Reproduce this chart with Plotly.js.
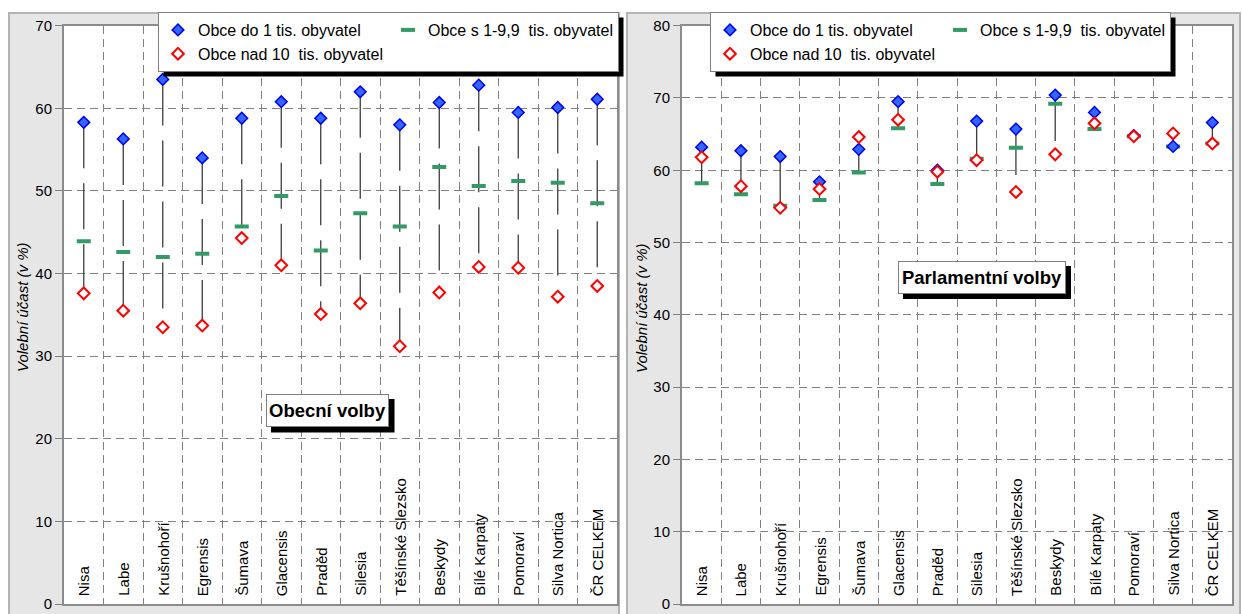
<!DOCTYPE html>
<html>
<head>
<meta charset="utf-8">
<script src="https://cdn.plot.ly/plotly-3.0.1.min.js"></script>
<style>
html,body{margin:0;padding:0;background:#fff;}
#chart{width:1242px;height:614px;}
</style>
</head>
<body>
<div id="chart"></div>
<script>
// ---- data ----
var categories = ['Nisa','Labe','Krušnohoří','Egrensis','Šumava','Glacensis','Praděd','Silesia','Těšínské Slezsko','Beskydy','Bílé Karpaty','Pomoraví','Silva Nortica','ČR CELKEM'];

var seriesNames = ['Obce do 1 tis. obyvatel', 'Obce s 1-9,9 \u00a0tis. obyvatel', 'Obce nad 10 \u00a0tis. obyvatel'];

// Obecní volby
var obecniDo1   = [58.3, 56.3, 63.5, 54.0, 58.8, 60.8, 58.8, 62.0, 58.0, 60.7, 62.8, 59.5, 60.1, 61.1];
var obecni1_10  = [43.9, 42.6, 42.0, 42.4, 45.7, 49.4, 42.8, 47.3, 45.7, 52.9, 50.6, 51.2, 51.0, 48.5];
var obecniNad10 = [37.6, 35.5, 33.5, 33.7, 44.3, 41.0, 35.1, 36.4, 31.2, 37.7, 40.8, 40.7, 37.2, 38.5];

// Parlamentní volby
var parlDo1     = [63.2, 62.7, 61.9, 58.4, 62.9, 69.5, 60.0, 66.8, 65.7, 70.4, 68.0, 64.8, 63.3, 66.6];
var parl1_10    = [58.2, 56.7, 55.1, 55.9, 59.7, 65.8, 58.1, 61.6, 63.1, 69.2, 65.7, 64.7, 63.3, 63.7];
var parlNad10   = [61.8, 57.8, 54.8, 57.4, 64.6, 67.0, 59.8, 61.4, 57.0, 62.2, 66.5, 64.7, 65.1, 63.7];

var panelTitles = ['Obecní volby', 'Parlamentní volby'];
var yTitle = 'Volební účast (v %)';

// ---- layout helpers ----
var W = 1242, H = 614;
var FONT = 'Liberation Sans, Arial, sans-serif';
function px(x){ return x / W; }
function py(y){ return 1 - y / H; }

var xIdx = categories.map(function(c, i){ return i; });
var boundaries = categories.slice(1).map(function(c, i){ return i + 0.5; });

function hiLo(a, b, c, xa, ya){
  var xs = [], ys = [];
  for (var i = 0; i < a.length; i++){
    xs.push(i, i, null);
    ys.push(Math.max(a[i], b[i], c[i]), Math.min(a[i], b[i], c[i]), null);
  }
  return {x: xs, y: ys, xaxis: xa, yaxis: ya, type: 'scatter', mode: 'lines',
          line: {color: '#3c3c3c', width: 1.3, dash: '46px,15px'},
          showlegend: false, hoverinfo: 'skip'};
}

function panelTraces(do1, s1_10, nad10, xa, ya, legendId, gp){
  return [
    hiLo(do1, s1_10, nad10, xa, ya),
    {x: xIdx, y: s1_10, xaxis: xa, yaxis: ya, type: 'scatter', mode: 'markers',
     name: seriesNames[1], legend: legendId, legendgroup: gp + 'b', legendrank: 3,
     marker: {symbol: 'line-ew', size: 10, color: '#339966', line: {color: '#339966', width: 4}}},
    {x: xIdx, y: do1, xaxis: xa, yaxis: ya, type: 'scatter', mode: 'markers',
     name: seriesNames[0], legend: legendId, legendgroup: gp + 'a', legendrank: 1,
     marker: {symbol: 'diamond', size: 9, color: '#3366ff', line: {color: '#0000ee', width: 1.5}}},
    {x: xIdx, y: nad10, xaxis: xa, yaxis: ya, type: 'scatter', mode: 'markers',
     name: seriesNames[2], legend: legendId, legendgroup: gp + 'a', legendrank: 2,
     marker: {symbol: 'diamond', size: 9, color: '#ffffff', line: {color: '#ff0000', width: 2}}}
  ];
}

var data = [].concat(
  panelTraces(obecniDo1, obecni1_10, obecniNad10, 'x', 'y', 'legend', 'L'),
  panelTraces(parlDo1, parl1_10, parlNad10, 'x2', 'y2', 'legend2', 'R')
);

var leftDom = [px(64), px(617)];
var rightDom = [px(682), px(1232)];
var yDom = [py(604), py(25.7)];

function xAxis(dom, anchor){
  return {domain: dom, anchor: anchor, range: [-0.5, categories.length - 0.5],
    tickvals: boundaries, showticklabels: false, ticks: '',
    showgrid: true, gridcolor: '#808080', griddash: '8px,5px', gridwidth: 1,
    showline: true, mirror: true, linecolor: '#8c8c8c', linewidth: 2,
    zeroline: false, fixedrange: true};
}
function yAxis(dom, anchor, max){
  return {domain: dom, anchor: anchor, range: [0, max], dtick: 10, tick0: 0,
    ticks: 'outside', ticklen: 7, tickcolor: '#808080', tickwidth: 1,
    tickfont: {family: FONT, size: 15, color: '#000'},
    showgrid: true, gridcolor: '#808080', griddash: '8px,5px', gridwidth: 1,
    showline: true, mirror: true, linecolor: '#8c8c8c', linewidth: 2,
    zeroline: false, fixedrange: true};
}

var shapes = [
  {type: 'rect', xref: 'paper', yref: 'paper', layer: 'below', x0: px(9), x1: px(619), y0: -0.02, y1: py(13),
   fillcolor: '#e6e6e6', line: {color: '#b4b4b4', width: 2}},
  {type: 'rect', xref: 'paper', yref: 'paper', layer: 'below', x0: px(627), x1: px(1240), y0: -0.02, y1: py(13),
   fillcolor: '#e6e6e6', line: {color: '#b4b4b4', width: 2}},
  {type: 'rect', xref: 'paper', yref: 'paper', layer: 'below', x0: leftDom[0], x1: leftDom[1], y0: yDom[0], y1: yDom[1],
   fillcolor: '#ffffff', line: {width: 0}},
  {type: 'rect', xref: 'paper', yref: 'paper', layer: 'below', x0: rightDom[0], x1: rightDom[1], y0: yDom[0], y1: yDom[1],
   fillcolor: '#ffffff', line: {width: 0}},
  // shadows of panel label boxes
  {type: 'rect', xref: 'paper', yref: 'paper', layer: 'above', x0: px(271), x1: px(394.5), y0: py(432.5), y1: py(399),
   fillcolor: '#000', line: {width: 0}},
  {type: 'rect', xref: 'paper', yref: 'paper', layer: 'above', x0: px(903), x1: px(1071), y0: py(299), y1: py(266),
   fillcolor: '#000', line: {width: 0}}
];

var annotations = [];
categories.forEach(function(c, i){
  ['x', 'x2'].forEach(function(xa, k){
    annotations.push({xref: xa, yref: k ? 'y2' : 'y', x: i, y: 0, text: c, showarrow: false,
      textangle: -90, xanchor: 'center', yanchor: 'bottom', yshift: 6,
      font: {family: FONT, size: 15, color: '#000'}});
  });
});
annotations.push({xref: 'paper', yref: 'paper', x: px(22), y: py(307), text: yTitle, showarrow: false,
  xanchor: 'center', yanchor: 'middle',
  textangle: -90, font: {family: FONT, size: 15, color: '#000', style: 'italic'}});
annotations.push({xref: 'paper', yref: 'paper', x: px(641), y: py(308), text: yTitle, showarrow: false,
  xanchor: 'center', yanchor: 'middle',
  textangle: -90, font: {family: FONT, size: 15, color: '#000', style: 'italic'}});
annotations.push({xref: 'paper', yref: 'paper', x: px(327.5), y: py(410.5), text: '<b>' + panelTitles[0] + '</b>',
  xanchor: 'center', yanchor: 'middle',
  showarrow: false, width: 121, height: 31, bgcolor: '#fff', bordercolor: '#808080', borderwidth: 1, borderpad: 0,
  font: {family: FONT, size: 18.5, color: '#000'}});
annotations.push({xref: 'paper', yref: 'paper', x: px(982), y: py(277.5), text: '<b>' + panelTitles[1] + '</b>',
  xanchor: 'center', yanchor: 'middle',
  showarrow: false, width: 166, height: 31, bgcolor: '#fff', bordercolor: '#808080', borderwidth: 1, borderpad: 0,
  font: {family: FONT, size: 18.5, color: '#000'}});

function legendCfg(x){
  return {x: x, y: py(12), xanchor: 'left', yanchor: 'top', orientation: 'h', traceorder: 'grouped',
    tracegroupgap: 0, bgcolor: '#fff', bordercolor: '#808080', borderwidth: 1,
    font: {family: FONT, size: 16, color: '#000'}, itemclick: false, itemdoubleclick: false};
}

var layout = {
  width: W, height: H, margin: {l: 0, r: 0, t: 0, b: 0},
  paper_bgcolor: '#fff', plot_bgcolor: 'rgba(0,0,0,0)',
  font: {family: FONT, size: 14, color: '#000'},
  showlegend: true,
  xaxis: xAxis(leftDom, 'y'), yaxis: yAxis(yDom, 'x', 70),
  xaxis2: xAxis(rightDom, 'y2'), yaxis2: yAxis(yDom, 'x2', 80),
  legend: legendCfg(px(158)),
  legend2: legendCfg(px(710)),
  shapes: shapes,
  annotations: annotations
};

var gd = document.getElementById('chart');
Plotly.newPlot(gd, data, layout, {staticPlot: true, displayModeBar: false}).then(function(){
  var g = gd.getBoundingClientRect();
  var extra = [];
  ['legend', 'legend2'].forEach(function(id){
    var bg = gd.querySelector('g.' + id + ' rect.bg');
    if (!bg) return;
    var r = bg.getBoundingClientRect();
    extra.push({type: 'rect', xref: 'paper', yref: 'paper', layer: 'above',
      x0: px(r.left - g.left + 5), x1: px(r.right - g.left + 5),
      y0: py(r.bottom - g.top + 5), y1: py(r.top - g.top + 5),
      fillcolor: '#000', line: {width: 0}});
  });
  if (extra.length) return Plotly.relayout(gd, {shapes: shapes.concat(extra)});
});
</script>
</body>
</html>
